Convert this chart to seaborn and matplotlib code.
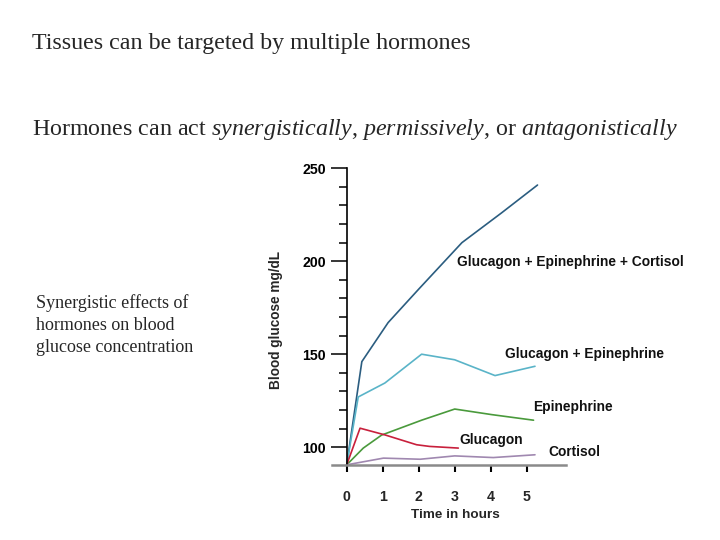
import numpy as np
import pandas as pd
import matplotlib
matplotlib.use("Agg")
import matplotlib.pyplot as plt
from matplotlib.ticker import MultipleLocator
import seaborn as sns

# ---------------------------------------------------------------------------
# Data
# ---------------------------------------------------------------------------
SERIES = ["Glucagon + Epinephrine + Cortisol", "Glucagon + Epinephrine",
          "Epinephrine", "Glucagon", "Cortisol"]

gec_hours = [0.0, 0.42, 1.15, 2.0, 3.2, 4.3, 5.3]
gec_glucose = [90.5, 146.0, 167.0, 185.0, 210.0, 226.0, 241.0]

ge_hours = [0.0, 0.32, 1.06, 2.08, 3.0, 4.12, 5.23]
ge_glucose = [90.5, 127.0, 134.5, 150.0, 147.0, 138.5, 143.5]

epi_hours = [0.0, 0.46, 0.97, 2.08, 3.0, 4.03, 5.19]
epi_glucose = [90.5, 99.5, 106.5, 114.5, 120.5, 117.5, 114.5]

glu_hours = [0.0, 0.37, 1.06, 1.94, 2.3, 3.1]
glu_glucose = [90.5, 110.2, 106.6, 101.3, 100.4, 99.5]

cort_hours = [0.0, 1.02, 2.04, 3.0, 4.07, 5.23]
cort_glucose = [90.5, 94.1, 93.5, 95.3, 94.4, 95.9]

COLORS = ["#2b5d80", "#5ab4c8", "#4a9a3c", "#c8203c", "#a088b0"]

# label anchor (hours, mg/dL) for each curve
label_hours = [3.06, 4.4, 5.18, 3.12, 5.6]
label_glucose = [199.4, 150.0, 121.7, 103.9, 97.6]

x_ticks = [0, 1, 2, 3, 4, 5]
y_ticks = [100, 150, 200, 250]

# ---------------------------------------------------------------------------
frames = []
for name, hrs, glc in zip(SERIES,
                          [gec_hours, ge_hours, epi_hours, glu_hours, cort_hours],
                          [gec_glucose, ge_glucose, epi_glucose, glu_glucose, cort_glucose]):
    frames.append(pd.DataFrame({"hours": hrs, "glucose": glc, "series": name}))
df = pd.concat(frames, ignore_index=True)

sns.set_theme(style="white")
plt.rcParams["font.family"] = ["Liberation Sans", "DejaVu Sans"]
plt.rcParams["mathtext.fontset"] = "custom"
plt.rcParams["mathtext.rm"] = "Liberation Serif"
plt.rcParams["mathtext.it"] = "Liberation Serif:italic"

fig = plt.figure(figsize=(7.2, 5.4), dpi=100)
fig.patch.set_facecolor("white")

# slide text
serif = ["Liberation Serif", "DejaVu Serif"]
fig.text(32 / 720, 1 - 44 / 540, "Tissues can be targeted by multiple hormones",
         family=serif, fontsize=17.25, va="center", ha="left")
fig.text(32 / 720, 1 - 129 / 540,
         "Hormones can act $\\it{synergistically}$, $\\it{permissively}$, or $\\it{antagonistically}$",
         family=serif, fontsize=17.25, va="center", ha="left")
for i, line in enumerate(["Synergistic effects of", "hormones on blood",
                          "glucose concentration"]):
    fig.text(36 / 720, 1 - (303 + 22 * i) / 540, line, family=serif,
             fontsize=13, va="center", ha="left")

ax = fig.add_axes([331.6 / 720, 75 / 540, 234.7 / 720, 296.7 / 540])
sns.lineplot(data=df, x="hours", y="glucose", hue="series", hue_order=SERIES,
             palette=COLORS, estimator=None, sort=False, linewidth=1.2,
             legend=False, ax=ax)

ax.set_xlim(-0.42, 6.1)
ax.set_ylim(90.4, 250)

for name, c, lx, ly in zip(SERIES, COLORS, label_hours, label_glucose):
    ax.text(lx, ly, name, fontsize=9.9, fontweight="bold", color="#111111",
            va="center", ha="left")

# axes styling
for s in ["top", "right"]:
    ax.spines[s].set_visible(False)
ax.spines["left"].set_position(("data", 0))
ax.spines["left"].set_color("black")
ax.spines["left"].set_linewidth(1.2)
ax.spines["bottom"].set_color("#8a8a8a")
ax.spines["bottom"].set_linewidth(1.8)

ax.set_xticks(x_ticks)
ax.set_xticklabels([str(t) for t in x_ticks], fontweight="bold", fontsize=10.2)
ax.set_yticks(y_ticks)
ax.set_yticklabels([str(t) for t in y_ticks], fontweight="bold", fontsize=10.2)
ax.yaxis.set_minor_locator(MultipleLocator(10))
ax.tick_params(axis="y", which="major", direction="out", length=11.5, width=1.1,
               pad=3.5, left=True, colors="black")
ax.tick_params(axis="y", which="minor", direction="out", length=5.5, width=1.1,
               left=True, color="black")
ax.tick_params(axis="x", which="major", direction="out", length=5, width=1.5,
               pad=13, bottom=True, color="black")

ax.set_xlabel("Time in hours", fontsize=9.7, fontweight="bold")
ax.set_ylabel("Blood glucose mg/dL", fontsize=9.8, fontweight="bold")
ax.xaxis.set_label_coords(0.529, -0.148)
ax.yaxis.set_label_coords(-0.205, 0.489)
ax.grid(False)
ax.set_facecolor("white")

fig.savefig("out.png", dpi=100, facecolor="white")
